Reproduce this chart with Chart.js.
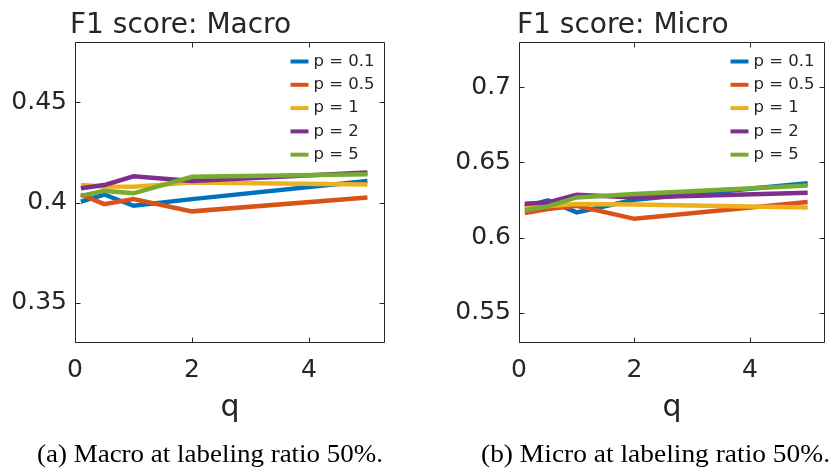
<!DOCTYPE html>
<html>
<head>
<meta charset="utf-8">
<script src="https://cdn.jsdelivr.net/npm/chart.js@4/dist/chart.umd.min.js"></script>
<style>
  body { margin: 0; background: #fff; }
  #pagina { position: relative; width: 833px; height: 468px; overflow: hidden; background: #fff; }
  .painel { position: absolute; top: 0; height: 468px; }
  .titulo { position: absolute; top: 10px; font: 28px 'DejaVu Sans'; line-height: 28px; color: #262626; white-space: nowrap; }
  .legenda { position: absolute; top: 441px; font: 25px 'Liberation Serif'; line-height: 25px; color: #000; white-space: nowrap; transform-origin: 0 0; }
</style>
</head>
<body>
<div id="pagina">
  <div class="painel" style="left:0; width:416px;"><canvas id="macroChart" width="416" height="468"></canvas></div>
  <div class="painel" style="left:416px; width:417px;"><canvas id="microChart" width="417" height="468"></canvas></div>
  <div class="titulo" style="left:70px;">F1 score: Macro</div>
  <div class="titulo" style="left:517px;">F1 score: Micro</div>
  <div class="legenda" id="legA" style="left:37px;" data-largura="346">(a) Macro at labeling ratio 50%.</div>
  <div class="legenda" id="legB" style="left:481px;" data-largura="349">(b) Micro at labeling ratio 50%.</div>
</div>
<script>
// Dados
const qValues = [0.1, 0.5, 1, 2, 5];
const pLabels = ['p = 0.1', 'p = 0.5', 'p = 1', 'p = 2', 'p = 5'];
const seriesColors = ['#0072BD', '#D95319', '#EDB120', '#7E2F8E', '#77AC30'];

// F1 macro
const macroP01 = [0.4005, 0.4040, 0.3984, 0.4017, 0.4107];
const macroP05 = [0.4040, 0.3992, 0.4017, 0.3956, 0.4025];
const macroP1  = [0.4087, 0.4080, 0.4079, 0.4100, 0.4090];
const macroP2  = [0.4071, 0.4087, 0.4131, 0.4107, 0.4150];
const macroP5  = [0.4033, 0.4058, 0.4046, 0.4128, 0.4141];

// F1 micro
const microP01 = [0.6204, 0.6247, 0.6168, 0.6252, 0.6362];
const microP05 = [0.6164, 0.6190, 0.6212, 0.6125, 0.6237];
const microP1  = [0.6197, 0.6210, 0.6224, 0.6220, 0.6200];
const microP2  = [0.6226, 0.6234, 0.6285, 0.6267, 0.6298];
const microP5  = [0.6182, 0.6208, 0.6267, 0.6290, 0.6346];

// Ticks dos eixos
const xTicks = [0, 2, 4];
const macroYTicks = [0.35, 0.4, 0.45];
const microYTicks = [0.55, 0.6, 0.65, 0.7];

const textColor = '#262626';
const fontFamily = 'DejaVu Sans';

// Caixa do eixo com ticks para dentro (estilo MATLAB)
const caixaEixos = {
    id: 'caixaEixos',
    afterDraw(chart) {
        const { ctx, chartArea: a, scales } = chart;
        const L = Math.round(a.left) + 0.5, R = Math.round(a.right) - 0.5;
        const T = Math.round(a.top) + 0.5, B = Math.round(a.bottom) - 0.5;
        const len = 5;
        ctx.save();
        ctx.strokeStyle = textColor;
        ctx.lineWidth = 1;
        ctx.beginPath();
        ctx.rect(L, T, R - L, B - T);
        scales.x.ticks.forEach(t => {
            const px = Math.round(scales.x.getPixelForValue(t.value)) + 0.5;
            ctx.moveTo(px, B); ctx.lineTo(px, B - len);
            ctx.moveTo(px, T); ctx.lineTo(px, T + len);
        });
        scales.y.ticks.forEach(t => {
            const py = Math.round(scales.y.getPixelForValue(t.value)) + 0.5;
            ctx.moveTo(L, py); ctx.lineTo(L + len, py);
            ctx.moveTo(R, py); ctx.lineTo(R - len, py);
        });
        ctx.stroke();
        ctx.restore();
    }
};

// Legenda dentro da área do gráfico, canto superior direito
const legendaInterna = {
    id: 'legendaInterna',
    afterDatasetsDraw(chart) {
        const { ctx, chartArea: a } = chart;
        ctx.save();
        ctx.font = `16.5px "${fontFamily}"`;
        ctx.textBaseline = 'middle';
        ctx.textAlign = 'left';
        chart.data.datasets.forEach((ds, i) => {
            const y = a.top + 19.5 + i * 23.3;
            ctx.strokeStyle = ds.borderColor;
            ctx.lineWidth = 4;
            ctx.beginPath();
            ctx.moveTo(a.right - 94.5, y);
            ctx.lineTo(a.right - 76.5, y);
            ctx.stroke();
            ctx.fillStyle = textColor;
            ctx.fillText(ds.label, a.right - 71.5, y);
        });
        ctx.restore();
    }
};

const fmt = v => String(Math.round(v * 100) / 100);

const criarGrafico = (canvasId, series, yMin, yMax, yTicks, yWidth, padRight) => {
    const datasets = series.map((vals, i) => ({
        label: pLabels[i],
        data: qValues.map((q, j) => ({ x: q, y: vals[j] })),
        borderColor: seriesColors[i],
        backgroundColor: seriesColors[i],
        borderWidth: 4.5,
        pointRadius: 0,
        tension: 0,
        fill: false,
        order: series.length - i
    }));

    return new Chart(document.getElementById(canvasId), {
        type: 'line',
        data: { datasets },
        options: {
            responsive: false,
            animation: false,
            devicePixelRatio: 1,
            layout: { padding: { top: 42, right: padRight, left: 0, bottom: 0 } },
            plugins: { legend: { display: false }, tooltip: { enabled: false } },
            scales: {
                x: {
                    type: 'linear',
                    min: 0,
                    max: 5.3,
                    afterBuildTicks: s => { s.ticks = xTicks.map(v => ({ value: v })); },
                    afterFit: s => { s.height = 125; },
                    grid: { display: false, drawTicks: false },
                    border: { display: false },
                    ticks: {
                        font: { family: fontFamily, size: 25 },
                        color: textColor,
                        padding: 12,
                        maxRotation: 0,
                        autoSkip: false,
                        callback: fmt
                    },
                    title: {
                        display: true,
                        text: 'q',
                        color: textColor,
                        font: { family: fontFamily, size: 30 },
                        padding: { top: 0, bottom: 42 }
                    }
                },
                y: {
                    type: 'linear',
                    min: yMin,
                    max: yMax,
                    afterBuildTicks: s => { s.ticks = yTicks.map(v => ({ value: v })); },
                    afterFit: s => { s.width = yWidth; },
                    grid: { display: false, drawTicks: false },
                    border: { display: false },
                    ticks: {
                        font: { family: fontFamily, size: 25 },
                        color: textColor,
                        padding: 8,
                        autoSkip: false,
                        callback: fmt
                    }
                }
            }
        },
        plugins: [caixaEixos, legendaInterna]
    });
};

criarGrafico('macroChart', [macroP01, macroP05, macroP1, macroP2, macroP5], 0.33, 0.48, macroYTicks, 75, 31);
criarGrafico('microChart', [microP01, microP05, microP1, microP2, microP5], 0.53, 0.73, microYTicks, 103, 8);

// Ajusta a largura das legendas (a) e (b) à do original
document.querySelectorAll('.legenda').forEach(el => {
    const alvo = parseFloat(el.dataset.largura);
    const w = el.getBoundingClientRect().width;
    if (w > 0) el.style.transform = `scaleX(${alvo / w})`;
});
</script>
</body>
</html>
